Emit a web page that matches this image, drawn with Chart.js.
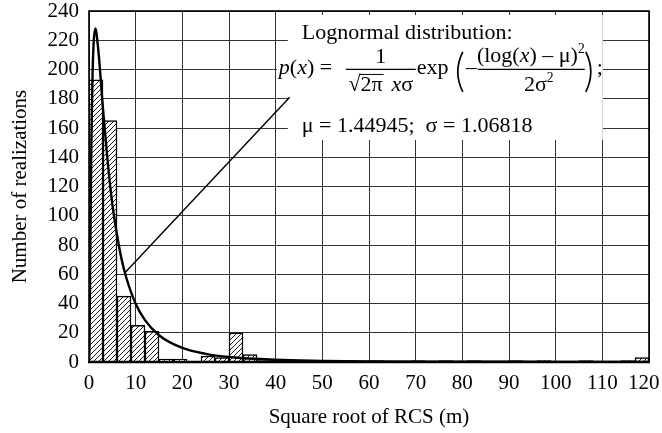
<!DOCTYPE html>
<html lang="en">
<head>
<meta charset="UTF-8">
<title>Lognormal histogram</title>
<script src="https://cdn.jsdelivr.net/npm/chart.js"></script>
<style>
  body { margin: 0; background: #fff; }
  #wrap { width: 662px; height: 433px; }
</style>
</head>
<body>
<div id="wrap"><canvas id="c" width="662" height="433"></canvas></div>
<script>
// histogram bins (width 3), centres and counts
const binCenters = [1.5, 4.5, 7.5, 10.5, 13.5, 16.5, 19.5, 22.5, 25.5, 28.5,
                    31.5, 34.5, 37.5, 40.5, 43.5, 46.5, 49.5, 52.5, 55.5, 58.5,
                    61.5, 64.5, 67.5, 70.5, 73.5, 76.5, 79.5, 82.5, 85.5, 88.5,
                    91.5, 94.5, 97.5, 100.5, 103.5, 106.5, 109.5, 112.5, 115.5, 118.5];
const counts = [193, 165, 45, 25, 21, 2, 2, 0, 4, 3,
                20, 5, 1, 1, 1, 0, 1, 0, 1, 0,
                1, 0, 0, 1, 0, 1, 0, 1, 0, 0,
                1, 0, 1, 0, 0, 1, 0, 0, 1, 3];

// fitted lognormal curve
const curveX = [0, 0.1, 0.25, 0.5, 0.75, 1, 1.36, 2, 3, 4, 5, 6, 7, 8, 10, 12, 15, 20, 25, 30, 40, 50, 60, 80, 100, 120];
const curveY = [0, 11.5, 65, 147, 195, 218.5, 228, 213, 173, 137, 108, 87, 70, 57.6, 39.8, 28.6, 18.3, 9.6, 5.6, 3.4, 1.5, 0.8, 0.4, 0.2, 0.1, 0.05];

// pointer from the curve to the formula box
const pointerX = [7.7, 43];
const pointerY = [61, 181];

const xTicks = [0, 10, 20, 30, 40, 50, 60, 70, 80, 90, 100, 110, 120];
const yTicks = [0, 20, 40, 60, 80, 100, 120, 140, 160, 180, 200, 220, 240];

const SERIF = '"Liberation Serif", "DejaVu Serif", serif';

const canvas = document.getElementById('c');
const ctx = canvas.getContext('2d');

// diagonal hatching like the printed figure
function makeHatch() {
    const c = document.createElement('canvas');
    c.width = 5; c.height = 5;
    const g = c.getContext('2d');
    g.fillStyle = '#fff';
    g.fillRect(0, 0, 5, 5);
    g.strokeStyle = '#000';
    g.lineWidth = 0.9;
    g.beginPath();
    g.moveTo(0, 5); g.lineTo(5, 0);
    g.moveTo(-1, 1); g.lineTo(1, -1);
    g.moveTo(4, 6); g.lineTo(6, 4);
    g.stroke();
    return ctx.createPattern(c, 'repeat');
}

// draw a run of text pieces: [text, style] with style '', 'i' (italic) or 'sup'
function drawRuns(g, parts, x, y, size) {
    for (const [t, st] of parts) {
        const fs = st === 'sup' ? size * 0.62 : size;
        g.font = (st === 'i' ? 'italic ' : '') + fs + 'px ' + SERIF;
        g.fillText(t, x, st === 'sup' ? y - size * 0.4 : y);
        x += g.measureText(t).width;
    }
    return x;
}
function runsWidth(g, parts, size) {
    let w = 0;
    for (const [t, st] of parts) {
        const fs = st === 'sup' ? size * 0.62 : size;
        g.font = (st === 'i' ? 'italic ' : '') + fs + 'px ' + SERIF;
        w += g.measureText(t).width;
    }
    return w;
}

// tall thin bracket, dir = 1 for "(" and -1 for ")"
function bracket(g, x, top, bottom, dir) {
    const mid = (top + bottom) / 2;
    g.beginPath();
    g.moveTo(x + dir * 5, top);
    g.quadraticCurveTo(x - dir * 5, mid, x + dir * 5, bottom);
    g.stroke();
}

const formulaBox = {
    id: 'formulaBox',
    beforeDatasetsDraw(chart, args, opts) {
        const { x, y } = chart.scales;
        const g = chart.ctx;
        const left = x.getPixelForValue(opts.x0), right = x.getPixelForValue(opts.x1);
        const top = y.getPixelForValue(opts.y1), bottom = y.getPixelForValue(opts.y0);
        g.save();
        g.fillStyle = '#fff';
        g.fillRect(left, top, right - left, bottom - top);
        // the formula row reaches a bit further left
        g.fillRect(left - 11, top + 36, 12, 42);
        g.fillStyle = '#000';
        g.strokeStyle = '#000';
        g.textBaseline = 'alphabetic';
        g.textAlign = 'left';
        const fs = 22;

        drawRuns(g, [['Lognormal distribution:', '']], left + 14, top + 24, fs);

        // p(x) =
        drawRuns(g, [['p', 'i'], ['(', ''], ['x', 'i'], [') =', '']], left - 9, top + 59, fs);

        // first fraction
        g.lineWidth = 1.2;
        g.beginPath();
        g.moveTo(left + 58, top + 54.5); g.lineTo(left + 128, top + 54.5);
        g.stroke();
        let num = [['1', '']];
        drawRuns(g, num, left + 93 - runsWidth(g, num, fs) / 2, top + 48, fs);
        const rootParts = [['\u221A', '']];
        const denParts = [['2\u03C0', ''], ['\u2009\u2009', ''], ['x', 'i'], ['\u03C3', '']];
        const dw = runsWidth(g, rootParts, fs) + runsWidth(g, denParts, fs);
        const afterRoot = drawRuns(g, rootParts, left + 93 - dw / 2, top + 76, fs);
        const w2pi = runsWidth(g, [['2\u03C0', '']], fs);
        g.lineWidth = 1;
        g.beginPath();
        g.moveTo(afterRoot - 1, top + 59.5); g.lineTo(afterRoot + w2pi + 1, top + 59.5);
        g.stroke();
        drawRuns(g, denParts, afterRoot, top + 76, fs);

        // exp( - ... )
        drawRuns(g, [['exp', '']], left + 129, top + 59, fs);
        g.lineWidth = 1.7;
        bracket(g, left + 170, top + 37, top + 77, 1);
        drawRuns(g, [['\u2013', '']], left + 178, top + 59, fs);

        // second fraction
        g.lineWidth = 1.2;
        g.beginPath();
        g.moveTo(left + 190, top + 54.5); g.lineTo(left + 297, top + 54.5);
        g.stroke();
        num = [['(log(', ''], ['x', 'i'], [') \u2013 \u03BC)', ''], ['2', 'sup']];
        drawRuns(g, num, left + 243 - runsWidth(g, num, fs) / 2, top + 47, fs);
        const den = [['2\u03C3', ''], ['2', 'sup']];
        drawRuns(g, den, left + 251 - runsWidth(g, den, fs) / 2, top + 76, fs);
        g.lineWidth = 1.7;
        bracket(g, left + 303, top + 37, top + 77, -1);
        drawRuns(g, [[';', '']], left + 309, top + 59, fs);

        drawRuns(g, [['\u03BC = 1.44945;  \u03C3 = 1.06818', '']], left + 14, top + 117, fs);
        g.restore();
    },
    afterDraw(chart) {
        const a = chart.chartArea;
        const g = chart.ctx;
        g.save();
        g.strokeStyle = '#000';
        g.lineWidth = 1.6;
        g.strokeRect(a.left, a.top, a.right - a.left, a.bottom - a.top);
        g.lineWidth = 2.6;
        g.beginPath();
        g.moveTo(a.left - 1, a.bottom); g.lineTo(a.right + 1, a.bottom);
        g.stroke();
        g.restore();
    }
};

const whiteBg = {
    id: 'whiteBg',
    beforeDraw(chart) {
        const g = chart.ctx;
        g.save();
        g.fillStyle = '#fff';
        g.fillRect(0, 0, chart.width, chart.height);
        g.restore();
    }
};

new Chart(ctx, {
    type: 'bar',
    data: {
        datasets: [
            {
                type: 'line',
                data: curveX.map((v, i) => ({ x: v, y: curveY[i] })),
                borderColor: '#000',
                borderWidth: 2.4,
                pointRadius: 0,
                cubicInterpolationMode: 'monotone',
                fill: false,
                order: 0
            },
            {
                type: 'line',
                data: pointerX.map((v, i) => ({ x: v, y: pointerY[i] })),
                borderColor: '#000',
                borderWidth: 1.4,
                pointRadius: 0,
                fill: false,
                order: 0
            },
            {
                type: 'bar',
                data: binCenters.map((v, i) => ({ x: v, y: counts[i] })),
                backgroundColor: makeHatch(),
                borderColor: '#000',
                borderWidth: 1.5,
                borderSkipped: 'start',
                barPercentage: 1,
                categoryPercentage: 1,
                order: 1
            }
        ]
    },
    options: {
        responsive: false,
        animation: false,
        layout: { padding: { left: 0, right: 13, top: 11, bottom: 0 } },
        plugins: {
            legend: { display: false },
            tooltip: { enabled: false },
            formulaBox: { x0: 42.6, x1: 110.1, y0: 151.8, y1: 237.3 }
        },
        scales: {
            x: {
                type: 'linear',
                offset: false,
                min: 0,
                max: 120,
                afterBuildTicks: s => { s.ticks = xTicks.map(v => ({ value: v })); },
                ticks: {
                    color: '#000', font: { family: SERIF, size: 21 }, padding: 9, maxRotation: 0,
                    // last label sits inside the canvas edge, as in the print
                    callback: v => v === 120 ? '120\u2002' : String(v)
                },
                grid: { color: '#333', lineWidth: 1, drawTicks: false, offset: false },
                border: { display: false },
                title: { display: true, text: 'Square root of RCS (m)', color: '#000',
                         font: { family: SERIF, size: 21 }, padding: { top: 4, bottom: 3 } },
                afterFit: s => { s.height = 71; s.paddingLeft = 0; s.paddingRight = 0; }
            },
            y: {
                min: 0,
                max: 240,
                afterBuildTicks: s => { s.ticks = yTicks.map(v => ({ value: v })); },
                ticks: { color: '#000', font: { family: SERIF, size: 21 }, padding: 10 },
                grid: { color: '#333', lineWidth: 1, drawTicks: false },
                border: { display: false },
                title: { display: true, text: 'Number of realizations', color: '#000',
                         font: { family: SERIF, size: 21 }, padding: { top: 8, bottom: 4 } },
                afterFit: s => { s.width = 89; s.paddingTop = 0; s.paddingBottom = 0; }
            }
        }
    },
    plugins: [whiteBg, formulaBox]
});
</script>
</body>
</html>
